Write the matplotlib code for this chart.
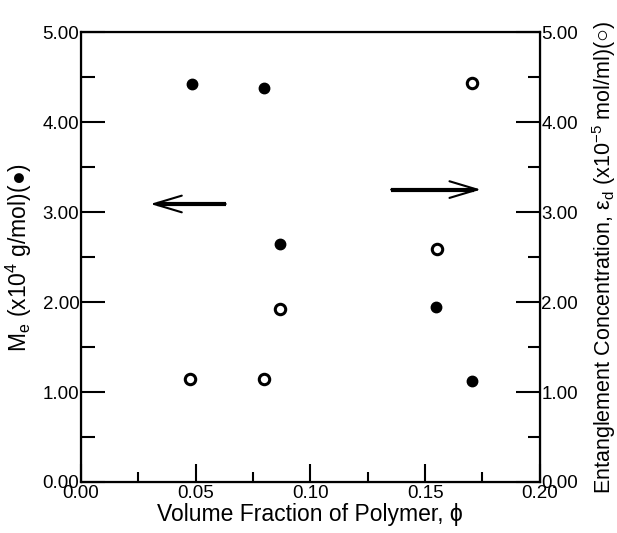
import numpy as np
import matplotlib
matplotlib.use('Agg')
import matplotlib.pyplot as plt
from matplotlib.ticker import MultipleLocator

plt.rcParams['font.family'] = ['Liberation Sans', 'DejaVu Sans']
plt.rcParams['mathtext.fontset'] = 'custom'
plt.rcParams['mathtext.rm'] = 'Liberation Sans'
plt.rcParams['mathtext.it'] = 'Liberation Sans:italic'

# entanglement molecular weight (filled, left axis)
phi_me = [0.0484, 0.0797, 0.0869, 0.1548, 0.1706]
me = [4.42, 4.38, 2.65, 1.95, 1.12]

# entanglement concentration (open, right axis)
phi_ed = [0.0476, 0.0800, 0.0866, 0.1551, 0.1706]
ed = [1.14, 1.15, 1.92, 2.59, 4.44]

xticks = [0.00, 0.05, 0.10, 0.15, 0.20]
yticks = [0, 1, 2, 3, 4, 5]

fig = plt.figure(figsize=(6.17, 5.33), dpi=100)
ax = fig.add_axes([0.131, 0.0957, 0.744, 0.844])

ax.plot(phi_me, me, 'o', color='black', markersize=7.5, zorder=3)
ax.plot(phi_ed, ed, 'o', markerfacecolor='white', markeredgecolor='black',
        markersize=7.5, markeredgewidth=2.2, zorder=3)

ax.set_xlim(0, 0.2)
ax.set_ylim(0, 5)
ax.set_xticks(xticks)
ax.set_xticklabels(['%.2f' % v for v in xticks])
ax.set_yticks(yticks)
ax.set_yticklabels(['%.2f' % v for v in yticks])
ax.xaxis.set_minor_locator(MultipleLocator(0.025))
ax.yaxis.set_minor_locator(MultipleLocator(0.5))
ax.tick_params(axis='both', which='major', direction='in', labelsize=13.5, width=1.5)
ax.tick_params(axis='x', which='major', length=13, pad=2)
ax.tick_params(axis='x', which='minor', direction='in', length=7, width=1.5)
ax.tick_params(axis='y', which='major', length=17, pad=1)
ax.tick_params(axis='y', which='minor', direction='in', length=10, width=1.5)
for s in ax.spines.values():
    s.set_linewidth(1.6)

ax2 = ax.twinx()
ax2.set_ylim(0, 5)
ax2.set_yticks(yticks)
ax2.set_yticklabels(['%.2f' % v for v in yticks])
ax2.yaxis.set_minor_locator(MultipleLocator(0.5))
ax2.tick_params(axis='y', which='major', direction='in', length=17, width=1.5,
                labelsize=13.5, pad=1)
ax2.tick_params(axis='y', which='minor', direction='in', length=9, width=1.5)

ax.set_xlabel('Volume Fraction of Polymer, \u03d5', fontsize=16.5, labelpad=1)
ax.set_ylabel(r'M$_\mathregular{e}$ (x10$^\mathregular{4}$ g/mol)(●)', fontsize=16.5, labelpad=6)
ax2.set_ylabel('Entanglement Concentration, \u03b5' + r'$_\mathregular{d}$ (x10$^\mathregular{-5}$ mol/ml)(○)',
               fontsize=15.5, rotation=90, labelpad=9)

# direction arrows: thick shaft, thinner open head
arrows = [((0.0631, 3.09), (0.0303, 3.09)), ((0.1352, 3.25), (0.1743, 3.25))]
for (x0, y0), (x1, y1) in arrows:
    ax.plot([x0, x1 + (0.003 if x1 < x0 else -0.003)], [y0, y1], color='black',
            lw=3, solid_capstyle='butt')
    ax.annotate('', xy=(x1, y1), xytext=(x0, y0),
                arrowprops=dict(arrowstyle='->, head_length=1.0, head_width=0.3',
                                mutation_scale=20, lw=1.5, color='black',
                                shrinkA=0, shrinkB=0))

fig.savefig('out.png', dpi=100)
